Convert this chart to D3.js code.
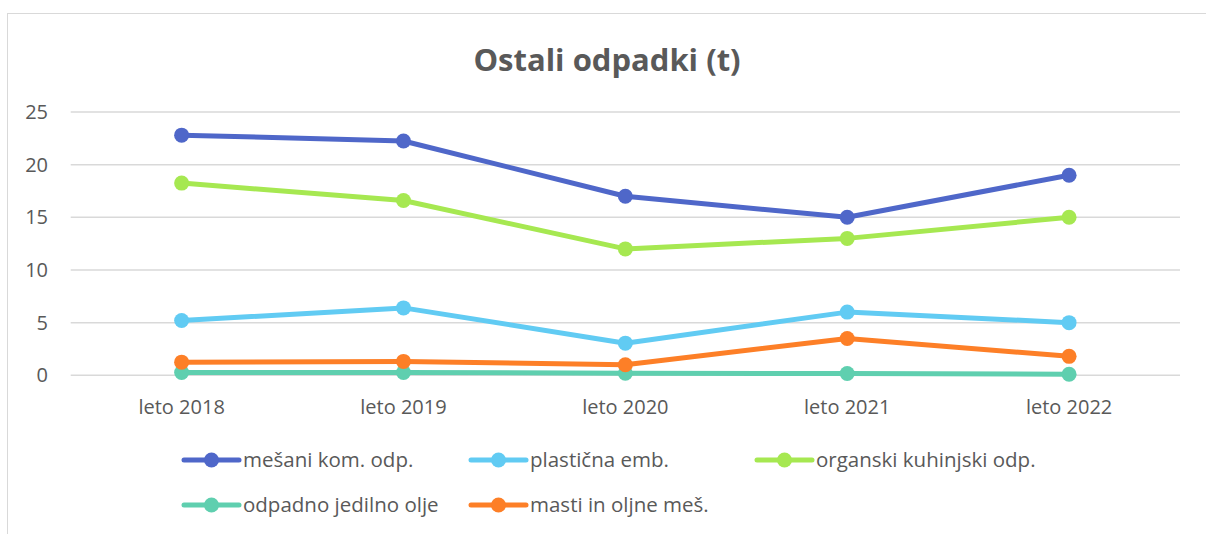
<!DOCTYPE html>
<html>
<head>
<meta charset="utf-8">
<script src="https://cdn.jsdelivr.net/npm/d3@7"></script>
<style>
  html, body { margin: 0; padding: 0; background: #fff; }
  svg { display: block; }
  text { font-family: "Open Sans", "Noto Sans", sans-serif; fill: #595959; }
</style>
</head>
<body>
<svg id="chart" width="1206" height="534"></svg>
<script>
const categories = ["leto 2018", "leto 2019", "leto 2020", "leto 2021", "leto 2022"];
const seriesNames = ["mešani kom. odp.", "plastična emb.", "organski kuhinjski odp.", "odpadno jedilno olje", "masti in oljne meš."];
const seriesColors = ["#4F67C9", "#61CBF3", "#A6E851", "#5FCFAF", "#FD7F27"];
const mesani = [22.8, 22.25, 17.0, 15.0, 19.0];
const plasticna = [5.2, 6.4, 3.05, 6.0, 5.0];
const organski = [18.25, 16.6, 12.0, 13.0, 15.0];
const olje = [0.27, 0.27, 0.2, 0.17, 0.1];
const masti = [1.25, 1.32, 1.0, 3.5, 1.8];
const yTicks = [0, 5, 10, 15, 20, 25];
const title = "Ostali odpadki (t)";

const seriesValues = [mesani, plasticna, organski, olje, masti];
const drawOrder = [0, 1, 2, 3, 4];

const svg = d3.select("#chart");

// chart border
svg.append("rect")
  .attr("x", 7.5).attr("y", 13.5)
  .attr("width", 1206).attr("height", 540)
  .attr("fill", "none").attr("stroke", "#d9d9d9").attr("stroke-width", 1);

svg.append("text")
  .attr("x", 607).attr("y", 71)
  .attr("text-anchor", "middle")
  .attr("font-size", 31).attr("font-weight", "bold")
  .text(title);

const x = d3.scaleBand().domain(categories).range([70.7, 1180]);
const y = d3.scaleLinear().domain([0, 25]).range([375.3, 112]);

// gridlines
svg.append("g")
  .selectAll("line").data(yTicks).join("line")
  .attr("x1", 70.7).attr("x2", 1180)
  .attr("y1", d => y(d)).attr("y2", d => y(d))
  .attr("stroke", "#d9d9d9").attr("stroke-width", 1.5);

// y axis labels
const yAxis = d3.axisLeft(y).tickValues(yTicks).tickSize(0).tickPadding(0);
const gy = svg.append("g").attr("transform", "translate(48,0)").call(yAxis);
gy.select(".domain").remove();
gy.selectAll("text").attr("font-size", 20).attr("fill", "#595959")
  .style("font-family", "\"Open Sans\", sans-serif");

// x axis labels
const xAxis = d3.axisBottom(x).tickSize(0).tickPadding(0);
const gx = svg.append("g").attr("transform", "translate(0,400)").call(xAxis);
gx.select(".domain").remove();
gx.selectAll("text").attr("font-size", 20).attr("fill", "#595959")
  .style("font-family", "\"Open Sans\", sans-serif");

const cx = c => x(c) + x.bandwidth() / 2;
const line = d3.line().x((d, i) => cx(categories[i])).y(d => y(d));

drawOrder.forEach(si => {
  const g = svg.append("g");
  g.append("path")
    .attr("d", line(seriesValues[si]))
    .attr("fill", "none").attr("stroke", seriesColors[si])
    .attr("stroke-width", 5).attr("stroke-linejoin", "round").attr("stroke-linecap", "round");
  g.selectAll("circle").data(seriesValues[si]).join("circle")
    .attr("cx", (d, i) => cx(categories[i])).attr("cy", d => y(d))
    .attr("r", 7.5).attr("fill", seriesColors[si]);
});

// legend
const legendPos = [[184, 460], [471, 460], [757, 460], [184, 505], [471, 505]];
seriesNames.forEach((name, i) => {
  const [lx, ly] = legendPos[i];
  const g = svg.append("g").attr("transform", `translate(${lx},${ly})`);
  g.append("line").attr("x1", 0).attr("x2", 55).attr("y1", 0).attr("y2", 0)
    .attr("stroke", seriesColors[i]).attr("stroke-width", 5).attr("stroke-linecap", "round");
  g.append("circle").attr("cx", 27.5).attr("cy", 0).attr("r", 7.5).attr("fill", seriesColors[i]);
  g.append("text").attr("x", 59).attr("y", 0).attr("dy", "0.35em")
    .attr("font-size", 20.5).text(name);
});
</script>
</body>
</html>
